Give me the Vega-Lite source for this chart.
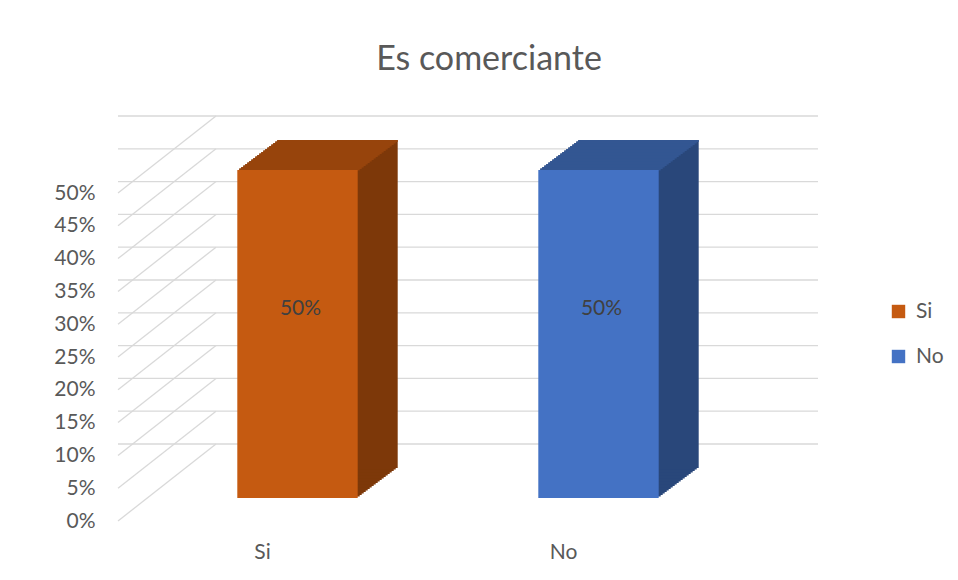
{
  "$schema": "https://vega.github.io/schema/vega-lite/v6.json",
  "width": 602,
  "height": 328,
  "autosize": {"type": "none"},
  "padding": {"left": 118, "top": 193, "right": 238, "bottom": 59},
  "background": "white",
  "config": {
    "view": {"stroke": null},
    "font": "Lato",
    "axis": {"domain": false, "ticks": false, "grid": false, "labelFontSize": 21, "labelColor": "#595959", "labelFont": "Lato"},
    "axisX": {"labelAngle": 0, "labelPadding": 20, "labelOffset": -6},
    "axisY": {"labelPadding": 23, "labelOverlap": false}
  },
  "title": {"text": "Es comerciante", "fontSize": 34, "font": "Lato", "fontWeight": "normal", "color": "#595959", "anchor": "middle", "dx": 70, "baseline": "alphabetic", "offset": 11},
  "datasets": {
    "bars": [{"cat": "Si", "value": 0.5}, {"cat": "No", "value": 0.5}],
    "ticks": [{"t": 0}, {"t": 0.05}, {"t": 0.1}, {"t": 0.15}, {"t": 0.2}, {"t": 0.25}, {"t": 0.3}, {"t": 0.35}, {"t": 0.4}, {"t": 0.45}, {"t": 0.5}]
  },
  "data": {"name": "bars"},
  "layer": [
    {"data": {"name": "ticks"}, "mark": {"type": "rule", "color": "#D9D9D9", "strokeWidth": 1.3, "xOffset": 98, "x2Offset": 98, "yOffset": -77, "y2Offset": -77}, "encoding": {"y": {"field": "t", "type": "quantitative", "axis": {"title": null, "format": ".0%", "values": [0, 0.05, 0.1, 0.15, 0.2, 0.25, 0.3, 0.35, 0.4, 0.45, 0.5]}}}},
    {"data": {"name": "ticks"}, "mark": {"type": "rule", "color": "#D9D9D9", "strokeWidth": 1.3, "x2Offset": 98, "y2Offset": -77}, "encoding": {"x": {"value": 0}, "x2": {"value": 0}, "y": {"field": "t", "type": "quantitative", "axis": {"title": null, "format": ".0%", "values": [0, 0.05, 0.1, 0.15, 0.2, 0.25, 0.3, 0.35, 0.4, 0.45, 0.5]}}, "y2": {"field": "t"}}},
    {
      "encoding": {
        "x": {"field": "cat", "type": "nominal", "axis": {"title": null}},
        "y": {"field": "value", "type": "quantitative", "axis": {"title": null, "format": ".0%", "values": [0, 0.05, 0.1, 0.15, 0.2, 0.25, 0.3, 0.35, 0.4, 0.45, 0.5]}},
        "color": {"condition": {"test": "datum.cat === 'Si'", "value": "#7D3809"}, "value": "#29477A"}
      },
      "layer": [
        {"mark": {"type": "bar", "xOffset": 31, "x2Offset": 31, "yOffset": -24.5, "y2Offset": -24.5}},
        {"mark": {"type": "bar", "xOffset": 33, "x2Offset": 33, "yOffset": -26, "y2Offset": -26}},
        {"mark": {"type": "bar", "xOffset": 35, "x2Offset": 35, "yOffset": -27.5, "y2Offset": -27.5}},
        {"mark": {"type": "bar", "xOffset": 37, "x2Offset": 37, "yOffset": -29, "y2Offset": -29}},
        {"mark": {"type": "bar", "xOffset": 39, "x2Offset": 39, "yOffset": -30.5, "y2Offset": -30.5}},
        {"mark": {"type": "bar", "xOffset": 41, "x2Offset": 41, "yOffset": -32, "y2Offset": -32}},
        {"mark": {"type": "bar", "xOffset": 43, "x2Offset": 43, "yOffset": -33.5, "y2Offset": -33.5}},
        {"mark": {"type": "bar", "xOffset": 45, "x2Offset": 45, "yOffset": -35, "y2Offset": -35}},
        {"mark": {"type": "bar", "xOffset": 47, "x2Offset": 47, "yOffset": -36.5, "y2Offset": -36.5}},
        {"mark": {"type": "bar", "xOffset": 49, "x2Offset": 49, "yOffset": -38, "y2Offset": -38}},
        {"mark": {"type": "bar", "xOffset": 51, "x2Offset": 51, "yOffset": -39.5, "y2Offset": -39.5}},
        {"mark": {"type": "bar", "xOffset": 53, "x2Offset": 53, "yOffset": -41, "y2Offset": -41}},
        {"mark": {"type": "bar", "xOffset": 55, "x2Offset": 55, "yOffset": -42.5, "y2Offset": -42.5}},
        {"mark": {"type": "bar", "xOffset": 57, "x2Offset": 57, "yOffset": -44, "y2Offset": -44}},
        {"mark": {"type": "bar", "xOffset": 59, "x2Offset": 59, "yOffset": -45.5, "y2Offset": -45.5}},
        {"mark": {"type": "bar", "xOffset": 61, "x2Offset": 61, "yOffset": -47, "y2Offset": -47}},
        {"mark": {"type": "bar", "xOffset": 63, "x2Offset": 63, "yOffset": -48.5, "y2Offset": -48.5}},
        {"mark": {"type": "bar", "xOffset": 65, "x2Offset": 65, "yOffset": -50, "y2Offset": -50}},
        {"mark": {"type": "bar", "xOffset": 67, "x2Offset": 67, "yOffset": -51.5, "y2Offset": -51.5}},
        {"mark": {"type": "bar", "xOffset": 69, "x2Offset": 69, "yOffset": -53, "y2Offset": -53}}
      ]
    },
    {
      "encoding": {
        "x": {"field": "cat", "type": "nominal", "axis": {"title": null}},
        "y": {"field": "value", "type": "quantitative", "axis": {"title": null, "format": ".0%", "values": [0, 0.05, 0.1, 0.15, 0.2, 0.25, 0.3, 0.35, 0.4, 0.45, 0.5]}},
        "y2": {"field": "value"},
        "color": {"condition": {"test": "datum.cat === 'Si'", "value": "#97440C"}, "value": "#335692"}
      },
      "layer": [
        {"mark": {"type": "bar", "xOffset": 31, "x2Offset": 31, "yOffset": -24.5, "y2Offset": -22.5}},
        {"mark": {"type": "bar", "xOffset": 33, "x2Offset": 33, "yOffset": -26, "y2Offset": -24}},
        {"mark": {"type": "bar", "xOffset": 35, "x2Offset": 35, "yOffset": -27.5, "y2Offset": -25.5}},
        {"mark": {"type": "bar", "xOffset": 37, "x2Offset": 37, "yOffset": -29, "y2Offset": -27}},
        {"mark": {"type": "bar", "xOffset": 39, "x2Offset": 39, "yOffset": -30.5, "y2Offset": -28.5}},
        {"mark": {"type": "bar", "xOffset": 41, "x2Offset": 41, "yOffset": -32, "y2Offset": -30}},
        {"mark": {"type": "bar", "xOffset": 43, "x2Offset": 43, "yOffset": -33.5, "y2Offset": -31.5}},
        {"mark": {"type": "bar", "xOffset": 45, "x2Offset": 45, "yOffset": -35, "y2Offset": -33}},
        {"mark": {"type": "bar", "xOffset": 47, "x2Offset": 47, "yOffset": -36.5, "y2Offset": -34.5}},
        {"mark": {"type": "bar", "xOffset": 49, "x2Offset": 49, "yOffset": -38, "y2Offset": -36}},
        {"mark": {"type": "bar", "xOffset": 51, "x2Offset": 51, "yOffset": -39.5, "y2Offset": -37.5}},
        {"mark": {"type": "bar", "xOffset": 53, "x2Offset": 53, "yOffset": -41, "y2Offset": -39}},
        {"mark": {"type": "bar", "xOffset": 55, "x2Offset": 55, "yOffset": -42.5, "y2Offset": -40.5}},
        {"mark": {"type": "bar", "xOffset": 57, "x2Offset": 57, "yOffset": -44, "y2Offset": -42}},
        {"mark": {"type": "bar", "xOffset": 59, "x2Offset": 59, "yOffset": -45.5, "y2Offset": -43.5}},
        {"mark": {"type": "bar", "xOffset": 61, "x2Offset": 61, "yOffset": -47, "y2Offset": -45}},
        {"mark": {"type": "bar", "xOffset": 63, "x2Offset": 63, "yOffset": -48.5, "y2Offset": -46.5}},
        {"mark": {"type": "bar", "xOffset": 65, "x2Offset": 65, "yOffset": -50, "y2Offset": -48}},
        {"mark": {"type": "bar", "xOffset": 67, "x2Offset": 67, "yOffset": -51.5, "y2Offset": -49.5}},
        {"mark": {"type": "bar", "xOffset": 69, "x2Offset": 69, "yOffset": -53, "y2Offset": -51}}
      ]
    },
    {"mark": {"type": "bar", "xOffset": 29, "x2Offset": 29, "yOffset": -23, "y2Offset": -23},
     "encoding": {
       "x": {"field": "cat", "type": "nominal", "scale": {"domain": ["Si", "No"], "paddingInner": 0.6, "paddingOuter": 0.3}, "axis": {"title": null}},
       "y": {"field": "value", "type": "quantitative", "scale": {"domain": [0, 0.5], "nice": false},
             "axis": {"title": null, "values": [0, 0.05, 0.1, 0.15, 0.2, 0.25, 0.3, 0.35, 0.4, 0.45, 0.5], "format": ".0%"}},
       "color": {"field": "cat", "type": "nominal", "scale": {"domain": ["Si", "No"], "range": ["#C55A11", "#4472C4"]},
                 "legend": {"title": null, "orient": "none", "legendX": 770, "legendY": 108, "symbolType": "square", "symbolSize": 180, "symbolStrokeWidth": 0, "labelFontSize": 21, "labelColor": "#595959", "labelFont": "Lato", "rowPadding": 23, "labelOffset": 7, "padding": 0}}
     }},
    {"mark": {"type": "text", "xOffset": 32, "yOffset": 116, "fontSize": 21, "font": "Lato", "color": "#404040", "baseline": "middle"},
     "encoding": {"x": {"field": "cat", "type": "nominal", "axis": {"title": null}}, "y": {"field": "value", "type": "quantitative", "axis": {"title": null, "format": ".0%", "values": [0, 0.05, 0.1, 0.15, 0.2, 0.25, 0.3, 0.35, 0.4, 0.45, 0.5]}}, "text": {"field": "value", "type": "quantitative", "format": ".0%"}}}
  ]
}
